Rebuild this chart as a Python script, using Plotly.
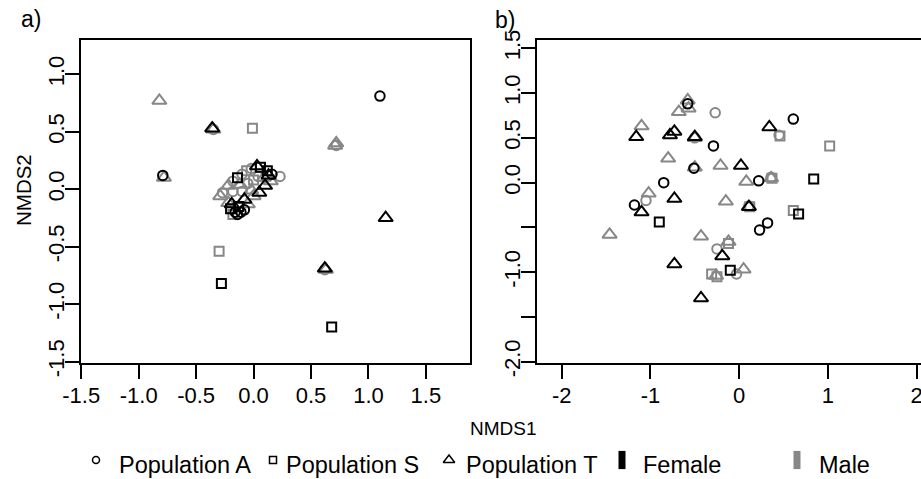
import plotly.graph_objects as go

# ---------------- data: panel a) ----------------
A_X = [-0.82, 1.10, -0.36, -0.35, -0.35, -0.01, -0.79, -0.78, 0.71, 0.72, 0.72,
       1.15, -0.30, -0.28, 0.63, 0.62, 0.62, 0.68,
       -0.29, -0.27, -0.22, -0.18, -0.14, -0.10, -0.06, -0.02, 0.03, 0.06, 0.12, 0.16, 0.23,
       -0.18, -0.10, -0.12, -0.05, 0.00, 0.04, 0.09, 0.13, -0.02,
       -0.05, 0.00, 0.05, 0.10, 0.15, -0.08,
       -0.20, -0.16, -0.11, -0.13, -0.18, -0.14, -0.22, -0.08, -0.19]
A_Y = [0.77, 0.81, 0.53, 0.52, 0.52, 0.53, 0.12, 0.10, 0.38, 0.38, 0.40,
       -0.25, -0.54, -0.82, -0.70, -0.70, -0.69, -1.20,
       -0.06, -0.03, 0.03, 0.07, 0.10, 0.13, 0.16, 0.18, 0.20, 0.19, 0.16, 0.13, 0.11,
       -0.02, -0.02, 0.04, 0.05, 0.08, 0.11, 0.10, 0.12, -0.01,
       -0.13, -0.06, -0.03, 0.03, 0.07, -0.09,
       -0.17, -0.20, -0.20, -0.15, -0.22, -0.22, -0.12, -0.18, -0.13]
A_POP = ["T", "A", "T", "T", "A", "S", "A", "T", "T", "A", "T",
         "T", "S", "S", "T", "A", "T", "S",
         "T", "A", "T", "A", "S", "A", "S", "A", "T", "S", "S", "A", "A",
         "A", "A", "T", "A", "S", "A", "T", "T", "T",
         "T", "T", "T", "T", "T", "T",
         "S", "A", "A", "S", "S", "A", "T", "A", "T"]
A_SEX = ["M", "F", "F", "M", "M", "M", "F", "M", "M", "M", "M",
         "F", "M", "F", "M", "M", "F", "F",
         "M", "M", "M", "M", "F", "M", "M", "M", "F", "F", "F", "F", "M",
         "M", "M", "M", "M", "M", "M", "M", "F", "M",
         "M", "M", "F", "F", "M", "F",
         "F", "F", "F", "F", "M", "F", "M", "F", "F"]

# ---------------- data: panel b) ----------------
B_X = [-0.58, -0.58, -0.68, -0.57, -0.27, -1.10, -1.16, -0.78, -0.73, -0.50, -0.50, -0.50,
       -0.29, 0.34, 0.61, 0.46, 0.45, 1.02, -0.80, -0.50, -0.51, -0.21, 0.02, 0.08,
       0.22, 0.36, 0.36, 0.37, 0.84, -0.85, -1.02, -1.05, -1.18, -1.10, -0.73, -0.90,
       -1.46, -0.15, 0.11, 0.11, 0.12, 0.32, 0.23, 0.61, 0.67, -0.43, -0.12, -0.12,
       -0.25, -0.19, -0.73, -0.10, 0.05, -0.03, -0.31, -0.25, -0.26, -0.43]
B_Y = [0.92, 0.88, 0.79, 0.83, 0.78, 0.63, 0.51, 0.53, 0.57, 0.51, 0.50, 0.50,
       0.41, 0.62, 0.71, 0.52, 0.53, 0.41, 0.27, 0.17, 0.16, 0.19, 0.19, 0.01,
       0.02, 0.05, 0.06, 0.05, 0.04, 0.00, -0.12, -0.20, -0.25, -0.33, -0.18, -0.44,
       -0.58, -0.21, -0.27, -0.26, -0.27, -0.45, -0.53, -0.31, -0.35, -0.60, -0.66, -0.68,
       -0.74, -0.82, -0.91, -0.98, -0.97, -1.02, -1.02, -1.05, -1.04, -1.29]
B_POP = ["T", "A", "T", "T", "A", "T", "T", "T", "T", "T", "T", "A",
         "A", "T", "A", "S", "A", "S", "T", "T", "A", "T", "T", "T",
         "A", "T", "A", "S", "S", "A", "T", "A", "A", "T", "T", "S",
         "T", "T", "T", "A", "S", "A", "A", "S", "S", "T", "T", "S",
         "A", "T", "T", "S", "T", "A", "S", "S", "T", "T"]
B_SEX = ["M", "F", "M", "M", "M", "M", "F", "F", "F", "F", "M", "M",
         "F", "F", "F", "M", "M", "M", "M", "M", "F", "M", "F", "M",
         "F", "M", "M", "M", "F", "F", "M", "M", "F", "F", "F", "F",
         "M", "M", "F", "M", "M", "F", "F", "M", "F", "M", "M", "M",
         "M", "F", "F", "F", "M", "M", "M", "M", "M", "F"]

POPS = ["A", "S", "T"]
POP_LABELS = ["Population A", "Population S", "Population T"]
SEXES = ["F", "M"]
SEX_LABELS = ["Female", "Male"]

# ---------------- styles ----------------
BLACK = "#000000"
GRAY = "#878787"
SEX_COLOR = {"F": BLACK, "M": GRAY}
POP_SYMBOL = {"A": "circle-open", "S": "square-open", "T": "triangle-up-open"}
POP_SIZE = {"A": 9.5, "S": 9, "T": 12.5}
FONT = "Liberation Sans, Arial, sans-serif"
W, H = 921, 479


def px(x):
    return x / W


def py(y):
    return 1 - y / H


fig = go.Figure()


def add_panel(xs, ys, pops, sexes, xa, ya):
    for sex in ["M", "F"]:
        for pop in POPS:
            sx = [x for x, p, s in zip(xs, pops, sexes) if p == pop and s == sex]
            sy = [y for y, p, s in zip(ys, pops, sexes) if p == pop and s == sex]
            if not sx:
                continue
            fig.add_trace(go.Scatter(
                x=sx, y=sy, mode="markers", xaxis=xa, yaxis=ya, showlegend=False,
                hoverinfo="x+y",
                marker=dict(symbol=POP_SYMBOL[pop], size=POP_SIZE[pop],
                            color=SEX_COLOR[sex], line=dict(width=2, color=SEX_COLOR[sex])),
                cliponaxis=True,
            ))


add_panel(A_X, A_Y, A_POP, A_SEX, "x", "y")
add_panel(B_X, B_Y, B_POP, B_SEX, "x2", "y2")

# ---------------- manual legend (overlay pixel axis) ----------------
LEG_SYM_X = [96, 273, 449]
LEG_TXT_X = [117, 284, 464]
LEG_SYM_Y = 460
LEG_TXT_Y = 465
LEG_SIZE = 23.5
for pop, lab, sxp, txp in zip(POPS, POP_LABELS, LEG_SYM_X, LEG_TXT_X):
    fig.add_trace(go.Scatter(
        x=[sxp], y=[LEG_SYM_Y], mode="markers", xaxis="x3", yaxis="y3", showlegend=False,
        hoverinfo="skip",
        marker=dict(symbol=POP_SYMBOL[pop], size=7 if pop != "T" else 10, color=BLACK,
                    line=dict(width=1.5, color=BLACK)),
    ))
    fig.add_annotation(x=px(txp), y=py(LEG_TXT_Y), xref="paper", yref="paper", text=lab,
                       showarrow=False, xanchor="left", yanchor="middle",
                       font=dict(family=FONT, size=LEG_SIZE, color=BLACK))

SEX_SYM_X = [622, 797]
SEX_TXT_X = [641, 817]
for sex, lab, sxp, txp in zip(SEXES, SEX_LABELS, SEX_SYM_X, SEX_TXT_X):
    fig.add_trace(go.Scatter(
        x=[sxp], y=[LEG_SYM_Y], mode="markers", xaxis="x3", yaxis="y3", showlegend=False,
        hoverinfo="skip",
        marker=dict(symbol="line-ns", size=13, color=SEX_COLOR[sex],
                    line=dict(width=7, color=SEX_COLOR[sex])),
    ))
    fig.add_annotation(x=px(txp), y=py(LEG_TXT_Y), xref="paper", yref="paper", text=lab,
                       showarrow=False, xanchor="left", yanchor="middle",
                       font=dict(family=FONT, size=LEG_SIZE, color=BLACK))

# ---------------- axes ----------------
TOP, BOT = 40, 362.5
tickfont = dict(family=FONT, size=22, color=BLACK)
common = dict(showgrid=False, zeroline=False, ticks="outside", ticklen=14, tickwidth=2,
              tickcolor=BLACK, linecolor=BLACK, linewidth=2, showline=True, tickfont=tickfont,
              ticklabeloverflow="allow", automargin=False)

A_XT = [-1.5, -1.0, -0.5, 0.0, 0.5, 1.0, 1.5]
A_YT = [-1.5, -1.0, -0.5, 0.0, 0.5, 1.0]
B_XT = [-2, -1, 0, 1, 2]
B_YT = [-2.0, -1.5, -1.0, -0.5, 0.0, 0.5, 1.0, 1.5]
B_YT_TEXT = ["-2.0", "", "-1.0", "", "0.0", "0.5", "1.0", "1.5"]

fig.update_layout(
    width=W, height=H, margin=dict(l=0, r=0, t=0, b=0, autoexpand=False),
    paper_bgcolor="white", plot_bgcolor="rgba(0,0,0,0)",
    showlegend=False,
    xaxis=dict(domain=[px(81), px(470)], range=[-1.502, 1.884], mirror=True,
               tickvals=A_XT, ticktext=[f"{v:.1f}" for v in A_XT], anchor="y",
               ticklabelstandoff=-2, **common),
    yaxis=dict(domain=[py(BOT), py(TOP)], range=[-1.508, 1.298], mirror=True,
               tickvals=A_YT, ticktext=[f"{v:.1f}" for v in A_YT], tickangle=-90,
               anchor="x", ticklabelstandoff=-8, **common),
    xaxis2=dict(domain=[px(537), 1.0], range=[-2.278, 2.049], mirror=True,
                tickvals=B_XT, ticktext=[str(v) for v in B_XT], anchor="y2",
                ticklabelstandoff=-2, **common),
    yaxis2=dict(domain=[py(BOT), py(TOP)], range=[-2.009, 1.593], mirror=False,
                tickvals=B_YT, ticktext=B_YT_TEXT, tickangle=-90, anchor="x2",
                ticklabelstandoff=-8, **common),
    xaxis3=dict(domain=[0, 1], range=[0, W], visible=False, anchor="y3", fixedrange=True,
                automargin=False),
    yaxis3=dict(domain=[0, 1], range=[H, 0], visible=False, anchor="x3", fixedrange=True,
                automargin=False),
)

fig.add_annotation(x=px(503), y=py(428), xref="paper", yref="paper", text="NMDS1",
                   showarrow=False, xanchor="center", yanchor="middle",
                   font=dict(family=FONT, size=19, color=BLACK))
fig.add_annotation(x=px(24), y=py(190), xref="paper", yref="paper", text="NMDS2",
                   showarrow=False, xanchor="center", yanchor="middle", textangle=-90,
                   font=dict(family=FONT, size=20.5, color=BLACK))
fig.add_annotation(x=px(31), y=py(19), xref="paper", yref="paper", text="a)",
                   showarrow=False, xanchor="center", yanchor="middle",
                   font=dict(family=FONT, size=23, color=BLACK))
fig.add_annotation(x=px(505), y=py(20), xref="paper", yref="paper", text="b)",
                   showarrow=False, xanchor="center", yanchor="middle",
                   font=dict(family=FONT, size=23, color=BLACK))

fig.write_html("out.html")
